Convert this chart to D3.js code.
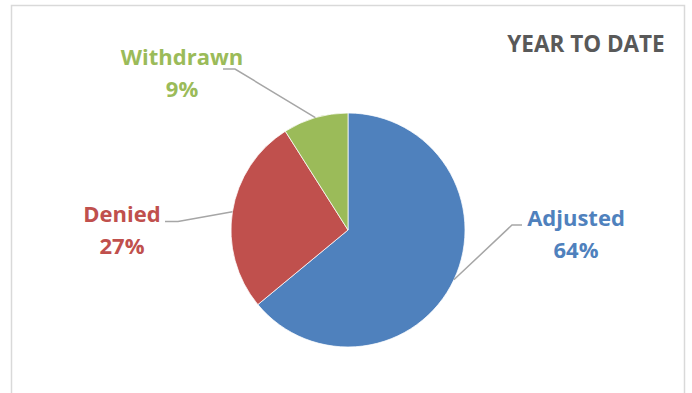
<!DOCTYPE html>
<html>
<head>
<meta charset="utf-8">
<script src="https://cdn.jsdelivr.net/npm/d3@7"></script>
<style>
  html, body { margin: 0; padding: 0; background: #fff; }
  svg { display: block; }
</style>
</head>
<body>
<div id="root"></div>
<script>
const svgWidth = 692;
const svgHeight = 393;

// data
const categories = ["Adjusted", "Denied", "Withdrawn"];
const values = [64, 27, 9];
const colors = ["#4F81BD", "#C0504D", "#9BBB59"];
const title = "YEAR TO DATE";

// label anchor spots (layout)
const labelSpots = [
  { x: 576, y: 226, lineY: 225, elbowX: 512, endX: 522 },
  { x: 122, y: 222, lineY: 221.5, elbowX: 178, endX: 165 },
  { x: 182, y: 65, lineY: 69, elbowX: 235, endX: 223 }
];

const cx = 348;
const cy = 230;
const radius = 117;
const font = "'Open Sans', 'Liberation Sans', sans-serif";

const svg = d3.select("#root")
  .append("svg")
  .attr("width", svgWidth)
  .attr("height", svgHeight);

// chart frame
svg.append("rect")
  .attr("x", 11.5)
  .attr("y", 5.5)
  .attr("width", 673)
  .attr("height", 400)
  .attr("fill", "#fff")
  .attr("stroke", "#d9d9d9")
  .attr("stroke-width", 1.5);

svg.append("text")
  .attr("x", 586)
  .attr("y", 52)
  .attr("text-anchor", "middle")
  .attr("font-family", font)
  .attr("font-weight", "bold")
  .attr("font-size", "22.5px")
  .attr("fill", "#595959")
  .text(title);

const total = d3.sum(values);
const colorScale = d3.scaleOrdinal().domain(categories).range(colors);

const pie = d3.pie().sort(null).value(d => d.value);
const arcs = pie(categories.map((c, i) => ({ name: c, value: values[i] })));

const arc = d3.arc().innerRadius(0).outerRadius(radius);
const edgeArc = d3.arc().innerRadius(radius).outerRadius(radius);

const g = svg.append("g").attr("transform", `translate(${cx},${cy})`);

g.selectAll("path.slice")
  .data(arcs)
  .join("path")
  .attr("class", "slice")
  .attr("d", arc)
  .attr("fill", d => colorScale(d.data.name))
  .attr("stroke", "#fff")
  .attr("stroke-width", 0.75);

// leader lines
g.selectAll("polyline")
  .data(arcs)
  .join("polyline")
  .attr("points", (d, i) => {
    const p = edgeArc.centroid(d);
    const s = labelSpots[i];
    const ly = s.lineY - cy;
    return [[p[0], p[1]], [s.elbowX - cx, ly], [s.endX - cx, ly]]
      .map(q => q.join(",")).join(" ");
  })
  .attr("fill", "none")
  .attr("stroke", "#a6a6a6")
  .attr("stroke-width", 1.5);

const labels = svg.selectAll("text.lbl")
  .data(arcs)
  .join("text")
  .attr("class", "lbl")
  .attr("text-anchor", "middle")
  .attr("font-family", font)
  .attr("font-weight", "bold")
  .attr("font-size", "22px")
  .attr("fill", d => colorScale(d.data.name));

labels.append("tspan")
  .attr("x", (d, i) => labelSpots[i].x)
  .attr("y", (d, i) => labelSpots[i].y)
  .text(d => d.data.name);

labels.append("tspan")
  .attr("x", (d, i) => labelSpots[i].x)
  .attr("y", (d, i) => labelSpots[i].y + 32)
  .text(d => Math.round(d.data.value / total * 100) + "%");
</script>
</body>
</html>
